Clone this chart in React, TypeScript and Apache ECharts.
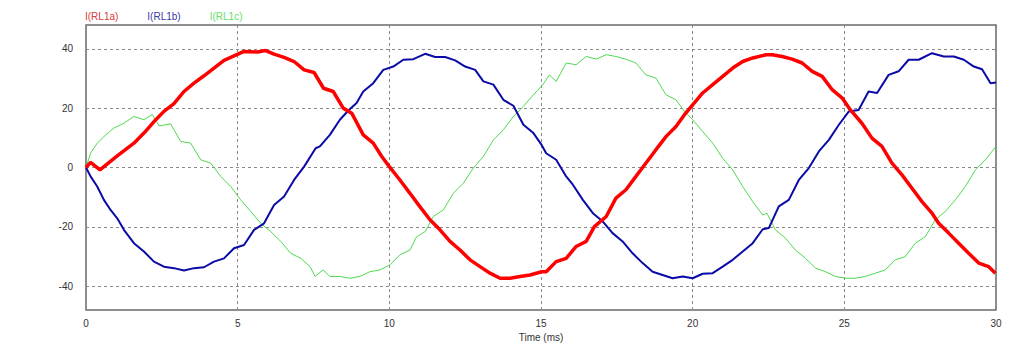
import React, { useEffect, useRef } from "react";
import * as echarts from "echarts";

const seriesNames = ["I(RL1a)", "I(RL1b)", "I(RL1c)"];
const xTicks = [0, 5, 10, 15, 20, 25, 30];
const yTicks = [-40, -20, 0, 20, 40];

const rl1a: [number, number][] = [
  [0, 0], [0.15, 1.7], [0.46, -0.8], [1.03, 3.9], [1.58, 8.2], [1.91, 11.6], [2.3, 16.1], [2.57, 18.9],
  [2.9, 21.5], [3.23, 25.6], [3.56, 28.4], [3.89, 30.9], [4.22, 33.5], [4.55, 36.1], [4.88, 37.6],
  [5.21, 39.1], [5.65, 38.9], [5.92, 39.4], [6.2, 38.2], [6.53, 37.1], [6.86, 35.7], [7.19, 32.9],
  [7.52, 32.0], [7.83, 26.7], [8.15, 25.6], [8.48, 20.0], [8.76, 18.3], [9.14, 11.0], [9.47, 8.2],
  [9.75, 3.7], [10.0, 0.3], [10.35, -4.2], [10.68, -8.7], [11.0, -13.1], [11.34, -17.6], [11.67, -21.0],
  [12.0, -24.9], [12.33, -27.8], [12.66, -31.1], [12.99, -33.4], [13.32, -35.6], [13.65, -37.3],
  [13.98, -37.3], [14.31, -36.7], [14.64, -36.2], [15.02, -35.1], [15.17, -35.1], [15.5, -31.7],
  [15.83, -30.6], [16.16, -26.6], [16.49, -24.9], [16.76, -19.9], [17.15, -16.5], [17.47, -10.3],
  [17.8, -7.5], [18.13, -3.0], [18.46, 1.5], [18.79, 6.0], [19.12, 10.4], [19.45, 13.8], [19.73, 17.8],
  [20.0, 21.1], [20.33, 25.1], [20.66, 27.9], [20.99, 30.7], [21.32, 33.5], [21.65, 35.7], [21.98, 36.9],
  [22.42, 38.0], [22.62, 38.0], [22.95, 37.4], [23.28, 36.5], [23.61, 35.2], [23.94, 32.4], [24.27, 30.7],
  [24.6, 26.2], [24.93, 23.4], [25.2, 19.4], [25.58, 14.9], [25.91, 9.9], [26.24, 7.1], [26.57, 1.5],
  [26.9, -2.5], [27.23, -7.0], [27.56, -11.5], [27.89, -15.4], [28.11, -18.8], [28.44, -22.1],
  [28.77, -25.5], [29.1, -28.9], [29.43, -32.2], [29.76, -33.4], [29.98, -35.6]
];

const rl1b: [number, number][] = [
  [0, 0], [0.15, -3.0], [0.37, -6.4], [0.59, -10.9], [0.81, -14.3], [1.03, -17.1], [1.25, -21.0],
  [1.58, -25.5], [1.91, -28.3], [2.24, -31.7], [2.57, -33.4], [2.9, -33.9], [3.23, -34.7], [3.56, -33.9],
  [3.89, -33.6], [4.22, -31.7], [4.55, -30.6], [4.88, -27.2], [5.21, -26.1], [5.54, -21.0], [5.87, -18.8],
  [6.2, -12.6], [6.53, -9.8], [6.86, -4.2], [7.19, 0.3], [7.57, 6.5], [7.71, 7.1], [8.04, 11.0],
  [8.37, 16.1], [8.65, 19.2], [8.92, 21.7], [9.14, 25.6], [9.47, 28.4], [9.8, 32.9], [10.13, 34.0],
  [10.46, 36.3], [10.79, 36.5], [11.18, 38.3], [11.51, 37.2], [11.84, 37.2], [12.17, 36.1], [12.5, 34.0],
  [12.83, 32.9], [13.1, 29.0], [13.43, 27.9], [13.76, 22.8], [14.09, 20.8], [14.42, 14.4], [14.75, 11.6],
  [15.02, 7.6], [15.17, 4.8], [15.5, 2.6], [15.83, -3.0], [16.05, -5.8], [16.38, -10.9], [16.71, -15.4],
  [17.04, -18.2], [17.36, -22.1], [17.69, -24.9], [18.02, -28.9], [18.35, -32.2], [18.68, -35.1],
  [19.01, -36.2], [19.34, -37.3], [19.67, -36.7], [20.0, -37.3], [20.33, -35.8], [20.66, -35.6],
  [20.99, -33.4], [21.32, -31.1], [21.65, -28.3], [21.98, -25.5], [22.31, -20.8], [22.51, -20.4],
  [22.84, -13.1], [23.17, -10.9], [23.5, -4.2], [23.83, -0.2], [24.16, 5.4], [24.49, 9.3], [24.82, 14.4],
  [25.15, 18.9], [25.47, 19.4], [25.8, 25.6], [26.08, 25.1], [26.46, 31.2], [26.79, 32.4], [27.12, 36.3],
  [27.45, 36.3], [27.89, 38.5], [28.28, 37.4], [28.61, 37.4], [28.94, 36.3], [29.27, 34.0], [29.54, 33.1],
  [29.82, 28.4], [30.0, 28.6]
];

const rl1c: [number, number][] = [
  [0, 0], [0.15, 4.8], [0.37, 8.2], [0.59, 10.4], [0.92, 13.3], [1.25, 14.9], [1.58, 17.2], [1.91, 16.1],
  [2.19, 17.8], [2.41, 14.0], [2.79, 14.7], [3.12, 8.8], [3.45, 8.2], [3.78, 2.6], [4.11, 1.5], [4.44, -3.0],
  [4.77, -6.4], [5.1, -10.9], [5.43, -14.8], [5.76, -18.8], [6.09, -21.6], [6.42, -24.9], [6.75, -28.9],
  [7.08, -30.6], [7.39, -33.4], [7.55, -36.7], [7.82, -34.5], [8.04, -36.7], [8.37, -36.7], [8.7, -37.3],
  [9.03, -36.7], [9.36, -35.1], [9.69, -34.5], [10.02, -32.8], [10.35, -29.4], [10.68, -27.8],
  [10.9, -23.3], [11.18, -21.6], [11.45, -16.5], [11.78, -14.3], [12.11, -8.7], [12.44, -5.3],
  [12.77, -0.2], [13.1, 3.7], [13.43, 9.3], [13.76, 12.7], [14.09, 17.2], [14.42, 20.6], [14.75, 24.5],
  [15.06, 27.9], [15.28, 31.2], [15.5, 29.0], [15.83, 35.2], [16.16, 34.6], [16.49, 37.4], [16.82, 36.5],
  [17.15, 38.0], [17.47, 37.4], [17.8, 36.5], [18.13, 35.2], [18.46, 31.2], [18.79, 30.1], [19.12, 24.5],
  [19.45, 22.8], [19.73, 18.9], [20.0, 16.1], [20.33, 12.1], [20.66, 8.2], [20.99, 3.1], [21.32, -0.8],
  [21.65, -6.4], [21.98, -11.5], [22.31, -16.0], [22.45, -15.4], [22.73, -21.0], [23.06, -23.8],
  [23.39, -27.8], [23.72, -30.6], [24.05, -33.9], [24.38, -35.1], [24.71, -36.7], [25.04, -37.3],
  [25.37, -37.3], [25.69, -36.7], [26.02, -35.6], [26.35, -34.5], [26.68, -31.1], [27.01, -30.0],
  [27.34, -25.5], [27.67, -23.3], [28.0, -17.6], [28.33, -14.8], [28.66, -10.9], [28.99, -6.4],
  [29.32, -0.8], [29.65, 2.6], [30.0, 7.1]
];

const lineColors = ["#ff0000", "#0a0aa8", "#4fd84f"];
const legendColors = ["#d83a3a", "#3a3aa0", "#66dd66"];
const lineWidths = [3.5, 2, 1];

export default function App() {
  const ref = useRef<HTMLDivElement>(null);
  useEffect(() => {
    if (!ref.current) return;
    const chart = echarts.init(ref.current, null, { renderer: "svg" });
    const font = "'Liberation Sans', Arial, sans-serif";
    const datas = [rl1a, rl1b, rl1c];
    chart.setOption({
      animation: false,
      backgroundColor: "#ffffff",
      textStyle: { fontFamily: font },
      legend: {
        left: 75,
        top: 6,
        icon: "none",
        itemWidth: 0,
        itemHeight: 0,
        itemGap: 24,
        data: seriesNames.map((n, i) => ({ name: n, textStyle: { color: legendColors[i], fontSize: 10, fontFamily: font } })),
      },
      grid: {
        left: 86,
        right: 28,
        top: 25,
        bottom: 48,
        show: true,
        borderColor: "#6a6a6a",
        borderWidth: 1.5,
        backgroundColor: "transparent",
      },
      xAxis: {
        type: "value",
        min: 0,
        max: 30,
        interval: 5,
        name: "Time (ms)",
        nameLocation: "middle",
        nameGap: 22,
        nameTextStyle: { color: "#333", fontSize: 10, fontFamily: font },
        axisLine: { show: false },
        axisTick: { show: false },
        axisLabel: {
          color: "#333",
          fontSize: 10,
          margin: 8,
          customValues: xTicks,
          formatter: (v: number) => String(v),
        },
        splitLine: { show: true, lineStyle: { color: "#8a8a8a", type: [3, 3], width: 1 } },
      },
      yAxis: {
        type: "value",
        min: -48,
        max: 48,
        axisLine: { show: false },
        axisTick: { show: false, customValues: yTicks },
        axisLabel: { color: "#333", fontSize: 10, margin: 13, customValues: yTicks },
        splitLine: { show: true, lineStyle: { color: "#8a8a8a", type: [3, 3], width: 1 } },
      },
      series: seriesNames.map((n, i) => ({
        name: n,
        type: "line",
        data: datas[i],
        showSymbol: false,
        symbol: "none",
        z: 3 - i,
        lineStyle: { color: lineColors[i], width: lineWidths[i] },
        itemStyle: { color: lineColors[i] },
      })),
    });
    return () => chart.dispose();
  }, []);
  return <div ref={ref} style={{ width: 1024, height: 358, margin: -8 }} />;
}
